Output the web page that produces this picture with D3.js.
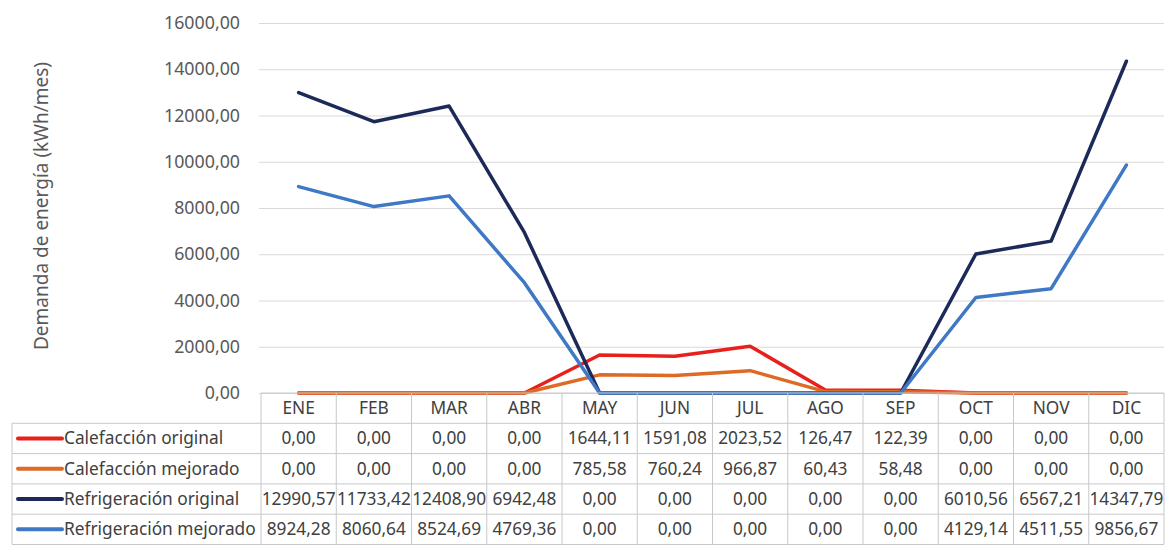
<!DOCTYPE html>
<html>
<head>
<meta charset="utf-8">
<script src="https://cdn.jsdelivr.net/npm/d3@7"></script>
<style>
  html, body { margin: 0; padding: 0; background: #fff; }
  svg { display: block; font-family: "Noto Sans", sans-serif; }
</style>
</head>
<body>
<div id="chart"></div>
<script>
// ---- data ----
const months = ['ENE', 'FEB', 'MAR', 'ABR', 'MAY', 'JUN', 'JUL', 'AGO', 'SEP', 'OCT', 'NOV', 'DIC'];
const seriesNames = ['Calefacción original', 'Calefacción mejorado', 'Refrigeración original', 'Refrigeración mejorado'];
const calefOriginal = [0, 0, 0, 0, 1644.11, 1591.08, 2023.52, 126.47, 122.39, 0, 0, 0];
const calefMejorado = [0, 0, 0, 0, 785.58, 760.24, 966.87, 60.43, 58.48, 0, 0, 0];
const refriOriginal = [12990.57, 11733.42, 12408.90, 6942.48, 0, 0, 0, 0, 0, 6010.56, 6567.21, 14347.79];
const refriMejorado = [8924.28, 8060.64, 8524.69, 4769.36, 0, 0, 0, 0, 0, 4129.14, 4511.55, 9856.67];
const yTicks = [0, 2000, 4000, 6000, 8000, 10000, 12000, 14000, 16000];
const yTitle = 'Demanda de energía (kWh/mes)';

const seriesValues = [calefOriginal, calefMejorado, refriOriginal, refriMejorado];
const seriesColors = ['#e8201c', '#dd6a26', '#1c2a59', '#3f78c4'];

// ---- layout ----
const width = 1168, height = 545;
const plot = { left: 261, right: 1164, top: 23, bottom: 393 };
const rowH = 30.3;
const legendLeft = 12;
const tableFont = 17.3;

const fmt = v => d3.format('.2f')(v).replace('.', ',');

const svg = d3.select('#chart').append('svg')
  .attr('width', width).attr('height', height);

const x = d3.scaleBand().domain(months).range([plot.left, plot.right]);
const cx = m => x(m) + x.bandwidth() / 2;
const y = d3.scaleLinear().domain([0, 16000]).range([plot.bottom, plot.top]);

// gridlines + y labels
const yAxis = d3.axisLeft(y).tickValues(yTicks).tickFormat(fmt)
  .tickSize(-(plot.right - plot.left + 2)).tickPadding(19);
svg.append('g')
  .attr('transform', `translate(${plot.left - 2},0)`)
  .call(yAxis)
  .call(g => g.select('.domain').remove())
  .call(g => g.selectAll('.tick line').attr('stroke', '#d9d9d9').attr('stroke-width', 1))
  .call(g => g.selectAll('.tick text')
    .attr('fill', '#595959').attr('font-size', 17.8).attr('font-family', '"Noto Sans", sans-serif'));

// y title
svg.append('text')
  .attr('transform', `translate(48,206) rotate(-90)`)
  .attr('text-anchor', 'middle')
  .attr('fill', '#595959')
  .attr('font-size', 19)
  .text(yTitle);

// lines
const line = d3.line().x((d, i) => cx(months[i])).y(d => y(d));
svg.append('g')
  .selectAll('path')
  .data(seriesValues)
  .join('path')
  .attr('d', d => line(d))
  .attr('fill', 'none')
  .attr('stroke', (d, i) => seriesColors[i])
  .attr('stroke-width', 3.5)
  .attr('stroke-linejoin', 'round')
  .attr('stroke-linecap', 'round');

// ---- data table ----
const table = svg.append('g');
const tableTop = plot.bottom;
const tableBottom = tableTop + rowH * 5;
const gridColor = '#c8c8c8';

// horizontal lines
table.append('line')
  .attr('x1', plot.left).attr('x2', plot.right)
  .attr('y1', tableTop).attr('y2', tableTop)
  .attr('stroke', gridColor);
for (let r = 1; r <= 5; r++) {
  table.append('line')
    .attr('x1', legendLeft).attr('x2', plot.right)
    .attr('y1', tableTop + r * rowH).attr('y2', tableTop + r * rowH)
    .attr('stroke', gridColor);
}
// vertical lines
months.forEach(m => {
  table.append('line')
    .attr('x1', x(m)).attr('x2', x(m))
    .attr('y1', tableTop).attr('y2', tableBottom)
    .attr('stroke', gridColor);
});
table.append('line')
  .attr('x1', plot.right).attr('x2', plot.right)
  .attr('y1', tableTop).attr('y2', tableBottom)
  .attr('stroke', gridColor);
table.append('line')
  .attr('x1', legendLeft).attr('x2', legendLeft)
  .attr('y1', tableTop + rowH).attr('y2', tableBottom)
  .attr('stroke', gridColor);

// header
table.selectAll('text.hdr')
  .data(months)
  .join('text')
  .attr('class', 'hdr')
  .attr('x', d => cx(d))
  .attr('y', tableTop + rowH / 2 + 6)
  .attr('text-anchor', 'middle')
  .attr('fill', '#404040')
  .attr('font-size', tableFont)
  .text(d => d);

// rows
seriesValues.forEach((vals, r) => {
  const rowMid = tableTop + (r + 1) * rowH + rowH / 2;
  table.append('line')
    .attr('x1', 18).attr('x2', 62)
    .attr('y1', rowMid).attr('y2', rowMid)
    .attr('stroke', seriesColors[r])
    .attr('stroke-width', 4)
    .attr('stroke-linecap', 'round');
  table.append('text')
    .attr('x', 64)
    .attr('y', rowMid + 6)
    .attr('fill', '#404040')
    .attr('font-size', tableFont)
    .text(seriesNames[r]);
  table.selectAll(null)
    .data(vals)
    .join('text')
    .attr('x', (d, i) => cx(months[i]))
    .attr('y', rowMid + 6)
    .attr('text-anchor', 'middle')
    .attr('fill', '#404040')
    .attr('font-size', tableFont)
    .text(d => fmt(d));
});
</script>
</body>
</html>
